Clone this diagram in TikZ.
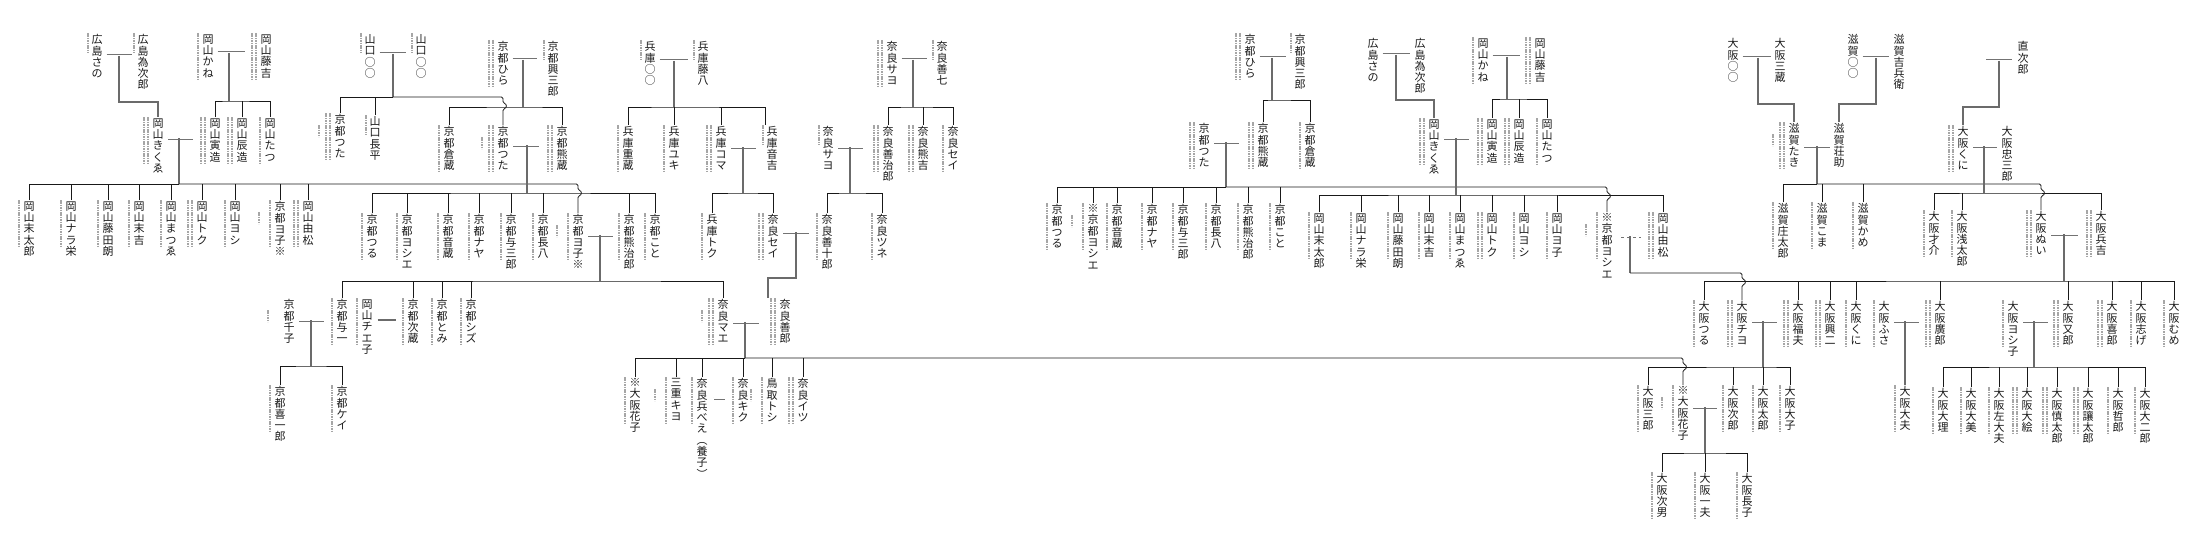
\documentclass[tikz,border=0pt]{standalone}
\usepackage{fontspec}
\setmainfont{Noto Sans CJK JP}
\usetikzlibrary{calc}

% vertical name: one character per line
\ExplSyntaxOn
\tl_new:N \l__tate_tl
\NewDocumentCommand\tate{m}
  {
    \tl_set:Nx \l__tate_tl {#1}
    \vbox{\baselineskip=11.3pt \lineskiplimit=-20pt \lineskip=0pt
      \tl_map_inline:Nn \l__tate_tl {\hbox to 11pt {\hss ##1 \hss}}}
  }
\ExplSyntaxOff

\tikzset{
  nm/.style={anchor=north, inner sep=0pt, outer ysep=1.5pt,
    font=\fontsize{11}{11.3}\selectfont, text=black!90},
  dbl/.style={draw=black!55, double=white, double distance=1.2pt,
    line width=0.9pt, shorten <=4pt, shorten >=4pt},
  lg/.style={draw=black!58, line width=1.4pt},
  ln/.style={draw=black!90, line width=0.8pt},
  dt/.style={draw=black!35, line width=2pt, dash pattern=on 1.6pt off 0.8pt},
}
% small date columns beside a name
\newcommand\smN[1]{}
\newcommand\smU[1]{\draw[dt] ([xshift=-9pt]#1.north) -- ++(0,20);}
\newcommand\smB[1]{\draw[dt] ([xshift=-10pt]#1.north) -- ++(0,46);}
\newcommand\smC[1]{\smB{#1}\draw[dt] ([xshift=-14pt]#1.north) -- ++(0,46);}
\newcommand\smK[1]{\draw[dt] ([xshift=-21pt,yshift=-12pt]#1.north) -- ++(0,12);}
\newcommand\smBK[1]{\smB{#1}\smK{#1}}
\newcommand\smCK[1]{\smC{#1}\smK{#1}}
% line that jumps over a bar on its way down
\newcommand\hopto[2]{\draw[ln,rounded corners=1.5pt] (#1) -- (#1 -| #2.north) -- ++(0,6)
  .. controls +(4,1) and +(4,-1) .. ++(0,6) -- (#2.north);}

\begin{document}
\begin{tikzpicture}[x=1pt,y=-1pt]
\useasboundingbox (0,0) rectangle (2197,543);

% ---- left tree: names
\foreach \id/\x/\y/\t/\d in {
  hsano/97/33/広島さの/U, htame/143/33/広島為次郎/U,
  okane/208/33/岡山かね/B, otoki/266/33/岡山藤吉/C,
  okikue/158/117/岡山きくゑ/C, otora/215/117/岡山寅造/C,
  otatz/242/117/岡山辰造/C, otatsu/270/117/岡山たつ/B,
  osue/29/200/岡山末太郎/B, onara/71/200/岡山ナラ栄/B,
  ofuji/108/200/岡山藤田朗/B, osuek/139/200/岡山末吉/B,
  omatsu/171/200/岡山まつゑ/B, otoku/202/200/岡山トク/C,
  oyoshi/235/200/岡山ヨシ/B, kyoko0/280/200/京都ヨ子※/BK,
  oyoshim/308/200/岡山由松/C,
  ytsuta/340/113/京都つた/CK, ycho/375/115/山口長平/U,
  yama1/370/33/山口○○/U, yama2/421/33/山口○○/U,
  khira/503/40/京都ひら/C, kkozo/553/40/京都興三郎/U,
  kkura/449/125/京都倉蔵/B, ktsuta/503/125/京都つた/CK,
  kkuma/562/125/京都熊蔵/C,
  ktsuru/372/213/京都つる/B, kyoshie/407/213/京都ヨシエ/B,
  koto/448/213/京都音蔵/B, knaya/479/213/京都ナヤ/B,
  kyosa/511/213/京都与三郎/B, kcho/543/213/京都長八/B,
  kyoko/578/213/京都ヨ子※/BK, kkumaj/629/213/京都熊治郎/B,
  kkoto/655/213/京都こと/B,
  kchizu/289/298/京都千子/K, kyoichi/342/298/京都与一/B,
  kki/280/385/京都喜一郎/B, kkei/342/385/京都ケイ/B,
  ochie/367/298/岡山チエ子/B, kjizo/413/298/京都次蔵/B,
  ktomi/442/298/京都とみ/B, kshizu/471/298/京都シズ/B,
  hmaru/650/40/兵庫○○/U, htou/703/40/兵庫藤八/U,
  hju/628/125/兵庫重蔵/B, hyuki/674/125/兵庫ユキ/B,
  hkoma/721/125/兵庫コマ/C, hoto/772/125/兵庫音吉/U,
  htoku/712/213/兵庫トク/B, nsei2/773/213/奈良セイ/C,
  nzen10/827/213/奈良善十郎/B, ntsune/882/213/奈良ツネ/B,
  nsayo2/828/125/奈良サヨ/U, nzenji/888/125/奈良善治郎/C,
  nkuma/923/125/奈良熊吉/C, nsei/953/125/奈良セイ/B,
  nsayo/892/40/奈良サヨ/C, nzen7/942/40/奈良善七/U,
  nmae/723/298/奈良マエ/CK, nzenro/785/298/奈良善郎/C,
  hana1/635/377/※大阪花子/B, mkiyo/676/377/三重キヨ/BK,
  nhyo/702/377/奈良兵べえ︵養子︶/B, nkiku/743/377/奈良キク/B,
  ttoshi/772/377/鳥取トシ/BK, nitsu/803/377/奈良イツ/C}
  {\node[nm] (\id) at (\x,\y) {\tate{\t}}; \csname sm\d\endcsname{\id}}

% ---- right tree: names
\foreach \id/\x/\y/\t/\d in {
  rkhira/1250/33/京都ひら/C, rkkozo/1300/33/京都興三郎/U,
  rktsuta/1204/122/京都つた/C, rkkuma/1263/122/京都熊蔵/C,
  rkkura/1310/122/京都倉蔵/B,
  rktsuru/1057/203/京都つる/B, rkyoshie0/1093/203/※京都ヨシエ/BK,
  rkoto/1117/203/京都音蔵/B, rknaya/1152/203/京都ナヤ/B,
  rkyosa/1183/203/京都与三郎/B, rkcho/1216/203/京都長八/B,
  rkkumaj/1248/203/京都熊治郎/B, rkkoto/1280/203/京都こと/B,
  rhsano/1373/37/広島さの/N, rhtame/1420/37/広島為次郎/N,
  rokikue/1434/118/岡山きくゑ/C, rotora/1492/118/岡山寅造/C,
  rotatz/1519/118/岡山辰造/C, rotatsu/1547/118/岡山たつ/B,
  rokane/1483/37/岡山かね/B, rotoki/1540/37/岡山藤吉/C,
  rosue/1319/212/岡山末太郎/B, ronara/1361/212/岡山ナラ栄/B,
  rofuji/1398/212/岡山藤田朗/B, rosuek/1429/212/岡山末吉/B,
  romatsu/1460/212/岡山まつゑ/B, rotoku/1492/212/岡山トク/C,
  royoshi/1524/212/岡山ヨシ/B, royoko/1557/212/岡山ヨ子/B,
  rkyoshie/1607/212/※京都ヨシエ/BK, royoshim/1663/212/岡山由松/C,
  rosan/1733/37/大阪○○/N, rsanzo/1780/37/大阪三蔵/N,
  stak/1794/122/滋賀たき/CK, sso/1839/122/滋賀荘助/N,
  smaru/1853/33/滋賀○○/N, skichi/1899/33/滋賀吉兵衛/N,
  ssho/1783/202/滋賀庄太郎/B, skoma/1822/202/滋賀こま/B,
  skame/1863/202/滋賀かめ/B,
  naoji/2023/40/直次郎/N,
  okuni/1963/125/大阪くに/C, ochu/2007/125/大阪忠三郎/N,
  osai/1934/210/大阪才介/B, oasa/1962/210/大阪浅太郎/B,
  onui/2041/210/大阪ぬい/C, ohyo/2101/210/大阪兵吉/C,
  otsuru/1704/300/大阪つる/B, ochiyo/1742/300/大阪チヨ/C,
  ofuku/1798/300/大阪福夫/C, okoji/1830/300/大阪興二/C,
  okuni2/1856/300/大阪くに/B, ofusa/1884/300/大阪ふさ/B,
  ohiro/1940/300/大阪廣郎/C, oyoshiko/2013/300/大阪ヨシ子/B,
  omata/2068/300/大阪又郎/C, oki/2112/300/大阪喜郎/C,
  oshige/2141/300/大阪志げ/B, omume/2174/300/大阪むめ/B,
  odayu/1905/385/大阪大夫/B,
  odairi/1943/387/大阪大理/B, odaimi/1971/387/大阪大美/B,
  osada/1999/387/大阪左大夫/B, odaie/2027/387/大阪大絵/C,
  oshin/2057/387/大阪慎太郎/C, ojo/2088/387/大阪讓太郎/C,
  otetsu/2118/387/大阪哲郎/B, odaiji/2145/387/大阪大二郎/B,
  osabu/1648/385/大阪三郎/B, hana2/1683/385/※大阪花子/BK,
  ojiro/1733/385/大阪次郎/B, otaro/1763/385/大阪太郎/B,
  otaiko/1790/385/大阪大子/B,
  ojinan/1662/472/大阪次男/B, oichi/1705/472/大阪一夫/B,
  ocho/1747/472/大阪長子/B}
  {\node[nm] (\id) at (\x,\y) {\tate{\t}}; \csname sm\d\endcsname{\id}}

% ---- left tree: lines
\coordinate (m1) at (119,56);
\draw[dbl, shorten >=5pt] (m1 -| hsano.east) -- (m1 -| htame.west);
\draw[lg] (m1) -- ++(0,46) -| (okikue.north);

\coordinate (m2) at (229,53); \coordinate (b2) at (229,101);
\draw[dbl, shorten >=15pt] (m2 -| okane.east) -- (m2 -| otoki.west);
\draw[lg] (m2) -- (b2);
\draw[ln] (otora.north) |- (b2) -| (otatsu.north);
\draw[ln] (otatz.north) -- (otatz.north |- b2);

\coordinate (m3) at (179,138); \coordinate (b3) at (179,184);
\draw[dbl, shorten >=16pt] (m3 -| okikue.east) -- (m3 -| otora.west);
\draw[lg] (m3) -- (b3);
\draw[ln] (osue.north) |- (b3);
\foreach \n in {onara,ofuji,osuek,omatsu,otoku,oyoshi,kyoko0,oyoshim}
  \draw[ln] (\n.north) -- (\n.north |- b3);
\hopto{b3}{kyoko}

\coordinate (m4) at (393,54); \coordinate (b4) at (393,97);
\draw[dbl, shorten >=9pt] (m4 -| yama1.east) -- (m4 -| yama2.west);
\draw[lg] (m4) -- (b4);
\draw[ln] (ytsuta.north) |- (b4);
\draw[ln] (ycho.north) -- (ycho.north |- b4);
\hopto{b4}{ktsuta}

\coordinate (m5) at (523,60); \coordinate (b5) at (523,107);
\draw[dbl, shorten >=10pt] (m5 -| khira.east) -- (m5 -| kkozo.west);
\draw[lg] (m5) -- (b5);
\draw[ln] (kkura.north) |- (b5) -| (kkuma.north);

\coordinate (m6) at (527,145); \coordinate (b6) at (527,193);
\draw[dbl, shorten >=17pt] (m6 -| ktsuta.east) -- (m6 -| kkuma.west);
\draw[lg] (m6) -- (b6);
\draw[ln] (ktsuru.north) |- (b6) -| (kkoto.north);
\foreach \n in {kyoshie,koto,knaya,kyosa,kcho,kkumaj}
  \draw[ln] (\n.north) -- (\n.north |- b6);

\coordinate (m7) at (600,235); \coordinate (b7) at (600,281);
\draw[dbl, shorten >=10pt] (m7 -| kyoko.east) -- (m7 -| kkumaj.west);
\draw[lg] (m7) -- (b7);
\draw[ln] (kyoichi.north) |- (b7) -| (nmae.north);
\foreach \n in {kjizo,ktomi,kshizu}
  \draw[ln] (\n.north) -- (\n.north |- b7);

\coordinate (m8) at (311,320); \coordinate (b8) at (311,366);
\draw[dbl, shorten >=12pt] (m8 -| kchizu.east) -- (m8 -| kyoichi.west);
\draw[lg] (m8) -- (b8);
\draw[ln] (kki.north) |- (b8) -| (kkei.north);

\coordinate (mc) at (387,320);
\draw[lg, line width=2.8pt, shorten <=5pt, shorten >=11pt] (mc -| ochie.east) -- (mc -| kjizo.west);

\coordinate (m9) at (674,61); \coordinate (b9) at (674,107);
\draw[dbl, shorten >=9pt] (m9 -| hmaru.east) -- (m9 -| htou.west);
\draw[lg] (m9) -- (b9);
\draw[ln] (hju.north) |- (b9) -| ([xshift=-7pt]hoto.north);
\foreach \n in {hyuki,hkoma}
  \draw[ln] (\n.north) -- (\n.north |- b9);

\coordinate (m10) at (743,147); \coordinate (b10) at (743,193);
\draw[dbl, shorten >=10pt] (m10 -| hkoma.east) -- (m10 -| hoto.west);
\draw[lg] (m10) -- (b10);
\draw[ln] (htoku.north) |- (b10) -| (nsei2.north);

\coordinate (m11) at (850,147); \coordinate (b11) at (850,193);
\draw[dbl, shorten >=19pt] (m11 -| nsayo2.east) -- (m11 -| nzenji.west);
\draw[lg] (m11) -- (b11);
\draw[ln] (nzen10.north) |- (b11) -| (ntsune.north);

\coordinate (m12) at (913,60); \coordinate (b12) at (913,107);
\draw[dbl, shorten >=9pt] (m12 -| nsayo.east) -- (m12 -| nzen7.west);
\draw[lg] (m12) -- (b12);
\draw[ln] (nzenji.north) |- (b12) -| (nsei.north);
\draw[ln] (nkuma.north) -- (nkuma.north |- b12);

\coordinate (m13) at (796,232);
\draw[dbl, shorten >=12pt] (m13 -| nsei2.east) -- (m13 -| nzen10.west);
\draw[lg] (m13) -- ++(0,46) -| ([xshift=-17pt]nzenro.north);

\coordinate (m14) at (745,322); \coordinate (b14) at (745,358);
\draw[dbl, shorten >=20pt] (m14 -| nmae.east) -- (m14 -| nzenro.west);
\draw[lg] (m14) -- (b14);
\draw[ln] (hana1.north) |- (b14);
\foreach \n in {mkiyo,nhyo,nkiku,ttoshi,nitsu}
  \draw[ln] (\n.north) -- (\n.north |- b14);
\hopto{b14}{hana2}

\coordinate (mh) at (719,398);
\draw[dbl, shorten <=6pt, shorten >=12pt] (mh -| nhyo.east) -- (mh -| nkiku.west);

% ---- right tree: lines
\coordinate (m21) at (1272,58); \coordinate (b21) at (1272,100);
\draw[dbl, shorten >=8pt] (m21 -| rkhira.east) -- (m21 -| rkkozo.west);
\draw[lg] (m21) -- (b21);
\draw[ln] (rkkuma.north) |- (b21) -| (rkkura.north);

\coordinate (m22) at (1226,142); \coordinate (b22) at (1226,187);
\draw[dbl, shorten >=18pt] (m22 -| rktsuta.east) -- (m22 -| rkkuma.west);
\draw[lg] (m22) -- (b22);
\draw[ln] (rktsuru.north) |- (b22);
\foreach \n in {rkyoshie0,rkoto,rknaya,rkyosa,rkcho,rkkumaj,rkkoto}
  \draw[ln] (\n.north) -- (\n.north |- b22);
\hopto{b22}{rkyoshie}

\coordinate (m23) at (1396,55);
\draw[dbl] (m23 -| rhsano.east) -- (m23 -| rhtame.west);
\draw[lg] (m23) -- ++(0,45) -| (rokikue.north);

\coordinate (m24) at (1507,57); \coordinate (b24) at (1507,99);
\draw[dbl, shorten >=14pt] (m24 -| rokane.east) -- (m24 -| rotoki.west);
\draw[lg] (m24) -- (b24);
\draw[ln] (rotora.north) |- (b24) -| (rotatsu.north);
\draw[ln] (rotatz.north) -- (rotatz.north |- b24);

\coordinate (m25) at (1456,138); \coordinate (b25) at (1456,195);
\draw[dbl, shorten >=17pt] (m25 -| rokikue.east) -- (m25 -| rotora.west);
\draw[lg] (m25) -- (b25);
\draw[ln] (rosue.north) |- (b25) -| (royoshim.north);
\foreach \n in {ronara,rofuji,rosuek,romatsu,rotoku,royoshi,royoko}
  \draw[ln] (\n.north) -- (\n.north |- b25);

\coordinate (m26) at (1630,236); \coordinate (b26) at (1630,273);
\draw[dbl, dashed, shorten <=8pt, shorten >=0pt] (m26 -| rkyoshie.east) -- ++(28,0);
\draw[lg] (m26) -- (b26);
\hopto{b26}{ochiyo}

\coordinate (m27) at (1758,58);
\draw[dbl, shorten >=3pt] (m27 -| rosan.east) -- (m27 -| rsanzo.west);
\draw[lg] (m27) -- ++(0,46) -| (stak.north);

\coordinate (m28) at (1876,58);
\draw[dbl] (m28 -| smaru.east) -- (m28 -| skichi.west);
\draw[lg] (m28) -- ++(0,46) -| (sso.north);

\coordinate (m29) at (1817,146); \coordinate (b29) at (1817,184);
\draw[dbl, shorten >=3pt] (m29 -| stak.east) -- (m29 -| sso.west);
\draw[lg] (m29) -- (b29);
\draw[ln] (ssho.north) |- (b29);
\foreach \n in {skoma,skame}
  \draw[ln] (\n.north) -- (\n.north |- b29);
\hopto{b29}{onui}

\coordinate (m30) at (1999,61);
\draw[dbl, shorten <=0pt, shorten >=5pt] ($(m30)+(-13,0)$) -- (m30 -| naoji.west);
\draw[lg] (m30) -- ++(0,46) -| (okuni.north);

\coordinate (m31) at (1984,146); \coordinate (b31) at (1984,193);
\draw[dbl] (m31 -| okuni.east) -- (m31 -| ochu.west);
\draw[lg] (m31) -- (b31);
\draw[ln] (osai.north) |- (b31) -| (ohyo.north);
\draw[ln] (oasa.north) -- (oasa.north |- b31);

\coordinate (m32) at (2064,234); \coordinate (b32) at (2064,281);
\draw[dbl, shorten >=17pt] (m32 -| onui.east) -- (m32 -| ohyo.west);
\draw[lg] (m32) -- (b32);
\draw[ln] (otsuru.north) |- (b32) -| (omume.north);
\foreach \n in {ofuku,okoji,okuni2,ohiro,omata,oki,oshige}
  \draw[ln] (\n.north) -- (\n.north |- b32);

\coordinate (m33) at (1763,321); \coordinate (b33) at (1763,367);
\draw[dbl, shorten >=15pt] (m33 -| ochiyo.east) -- (m33 -| ofuku.west);
\draw[lg] (m33) -- (b33);
\draw[ln] (osabu.north) |- (b33) -| (otaiko.north);
\foreach \n in {ojiro,otaro}
  \draw[ln] (\n.north) -- (\n.north |- b33);

\coordinate (m34) at (1905,321);
\draw[dbl, shorten >=15pt] (m34 -| ofusa.east) -- (m34 -| ohiro.west);
\draw[lg] (m34) -- (odayu.north);

\coordinate (m35) at (2034,321); \coordinate (b35) at (2034,367);
\draw[dbl, shorten >=14pt] (m35 -| oyoshiko.east) -- (m35 -| omata.west);
\draw[lg] (m35) -- (b35);
\draw[ln] (odairi.north) |- (b35) -| (odaiji.north);
\foreach \n in {odaimi,osada,odaie,oshin,ojo,otetsu}
  \draw[ln] (\n.north) -- (\n.north |- b35);

\coordinate (m36) at (1705,407); \coordinate (b36) at (1705,453);
\draw[dbl, shorten >=10pt] (m36 -| hana2.east) -- (m36 -| ojiro.west);
\draw[lg] (m36) -- (b36);
\draw[ln] (ojinan.north) |- (b36) -| (ocho.north);
\draw[ln] (oichi.north) -- (oichi.north |- b36);
\end{tikzpicture}
\end{document}
